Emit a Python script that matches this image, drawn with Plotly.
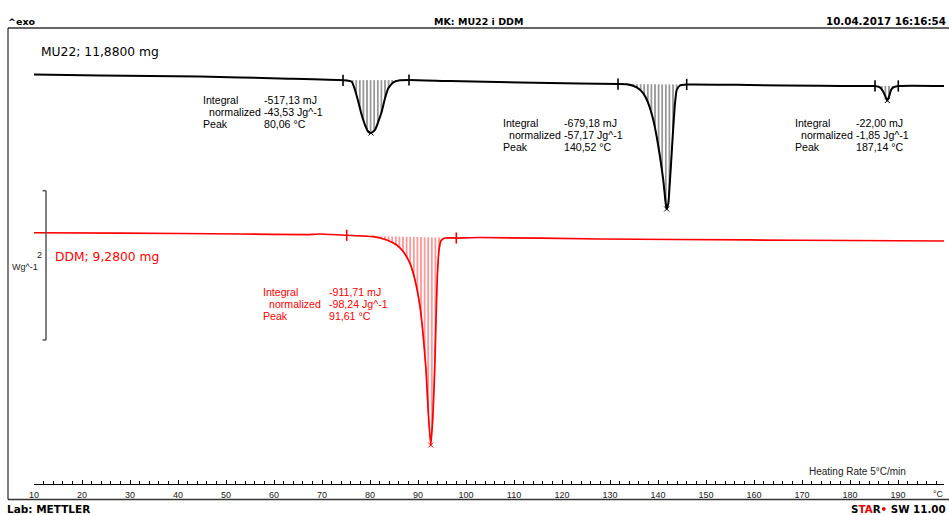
import numpy as np
import plotly.graph_objects as go

# ---------------- data ----------------
# MU22 curve: temperature (°C) and heat flow (W/g, offset)
mu22_temp = [10.0, 23.75, 44.58, 61.25, 74.38, 76.19, 76.88, 77.56, 78.27, 78.96,
             79.65, 80.21, 81.04, 81.73, 82.44, 83.13, 83.81, 84.85, 86.25, 88.13,
             96.67, 111.25, 123.75, 131.67, 133.48, 135.56, 136.94, 137.98, 139.02, 139.73,
             140.42, 141.10, 141.60, 141.81, 142.15, 142.50, 142.85, 143.19, 143.54, 143.90,
             144.58, 145.98, 159.17, 173.75, 182.71, 185.21, 186.25, 186.94, 187.50, 187.77,
             188.13, 188.54, 189.02, 190.06, 199.58]
mu22_hf = [5.486, 5.472, 5.459, 5.432, 5.408, 5.389, 5.278, 5.121, 4.943, 4.809,
           4.719, 4.702, 4.742, 4.853, 4.987, 5.167, 5.301, 5.381, 5.408, 5.412,
           5.398, 5.378, 5.365, 5.358, 5.354, 5.314, 5.234, 5.100, 4.876, 4.652,
           4.384, 4.072, 3.760, 3.684, 3.760, 4.072, 4.430, 4.786, 5.100, 5.278,
           5.338, 5.352, 5.345, 5.334, 5.332, 5.332, 5.314, 5.255, 5.171, 5.137,
           5.188, 5.278, 5.314, 5.332, 5.332]

# DDM curve
ddm_temp = [10.0, 27.92, 52.92, 66.81, 69.58, 75.15, 80.69, 83.48, 85.56, 86.94,
            88.33, 89.38, 90.42, 91.10, 91.67, 92.15, 92.65, 93.06, 93.48, 93.75,
            94.02, 94.38, 94.79, 95.63, 97.98, 102.92, 127.92, 159.17, 180.0, 199.58]
ddm_hf = [3.366, 3.362, 3.349, 3.340, 3.349, 3.332, 3.313, 3.269, 3.202, 3.112,
          2.956, 2.733, 2.375, 1.973, 1.527, 0.947, 0.522, 0.857, 1.527, 2.197,
          2.777, 3.135, 3.259, 3.295, 3.295, 3.302, 3.282, 3.269, 3.262, 3.255]

# integration limits (°C)
mu22_limits = [(74.38, 88.13), (131.67, 145.98), (185.21, 190.06)]
ddm_limits = [(75.15, 97.98)]

# evaluation texts
mu22_results = [
    ["-517,13 mJ", "-43,53 Jg^-1", "80,06 °C"],
    ["-679,18 mJ", "-57,17 Jg^-1", "140,52 °C"],
    ["-22,00 mJ", "-1,85 Jg^-1", "187,14 °C"],
]
ddm_results = [["-911,71 mJ", "-98,24 Jg^-1", "91,61 °C"]]
result_labels = ["Integral", "normalized", "Peak"]

x_ticks = list(range(10, 200, 10))

# ---------------- figure ----------------
W, H = 949, 515
ML, MR, MT, MB = 34, 5, 28, 31
PX_PER_C = 4.8
PX_PER_WG = 74.65
x_range = [10, 10 + (W - ML - MR) / PX_PER_C]
plot_h = H - MT - MB
y_range = [0, plot_h / PX_PER_WG]

fig = go.Figure()

def add_peaks(temp, hf, limits, color, edge):
    t = np.array(temp)
    h = np.array(hf)
    for a, b in limits:
        ha, hb = np.interp(a, t, h), np.interp(b, t, h)
        m = (t > a) & (t < b)
        px = [a] + list(t[m]) + [b]
        py = [ha] + list(h[m]) + [hb]
        fig.add_trace(go.Scatter(
            x=px, y=py, mode="lines", fill="toself",
            fillcolor="rgba(0,0,0,0)",
            fillpattern=dict(shape="|", size=3.6, solidity=0.4,
                             fgcolor=color, bgcolor="rgba(255,255,255,0)"),
            line=dict(color=edge, width=0.8),
            hoverinfo="skip", showlegend=False))
        # limit markers
        fig.add_trace(go.Scatter(
            x=[a, b], y=[ha, hb], mode="markers",
            marker=dict(symbol="line-ns", size=8, line=dict(color=color, width=1.6)),
            hoverinfo="skip", showlegend=False))
        # peak marker
        seg_t, seg_h = t[m], h[m]
        k = int(np.argmin(seg_h))
        fig.add_trace(go.Scatter(
            x=[seg_t[k]], y=[seg_h[k]], mode="markers",
            marker=dict(symbol="x-thin", size=5, line=dict(color=color, width=1)),
            hoverinfo="skip", showlegend=False))

add_peaks(mu22_temp, mu22_hf, mu22_limits, "black", "rgba(140,140,140,0.9)")
add_peaks(ddm_temp, ddm_hf, ddm_limits, "#ff0000", "rgba(255,110,110,0.9)")

fig.add_trace(go.Scatter(x=mu22_temp, y=mu22_hf, mode="lines",
                         line=dict(color="black", width=2, shape="spline", smoothing=0.5),
                         name="MU22", showlegend=False, hoverinfo="skip"))
fig.add_trace(go.Scatter(x=ddm_temp, y=ddm_hf, mode="lines",
                         line=dict(color="#ff0000", width=1.7, shape="spline", smoothing=0.5),
                         name="DDM", showlegend=False, hoverinfo="skip"))

def px_to_paper_x(px):
    return (px - ML) / (W - ML - MR)

def py_to_paper_y(py):
    return (H - MB - py) / plot_h

def py_to_data(py):
    return (H - MB - py) / PX_PER_WG

def pxc(px):
    return 10 + (px - ML) / PX_PER_C

ann = []
txt_font = dict(family="Liberation Sans, Arial, sans-serif", size=10.6)

# result blocks: (label px, value px, first line py, color, results)
blocks = [
    (202, 263, 100, "black", mu22_results[0]),
    (502, 563, 123, "black", mu22_results[1]),
    (794, 855, 123, "black", mu22_results[2]),
    (262, 328, 292, "#ff0000", ddm_results[0]),
]
for lx, vx, py0, col, vals in blocks:
    for i, (lab, val) in enumerate(zip(result_labels, vals)):
        yy = py_to_data(py0 + 12.2 * i)
        ann.append(dict(x=pxc(lx), y=yy, xref="x", yref="y", text=lab,
                        xanchor="left", yanchor="middle", showarrow=False, borderpad=0,
                        xshift=6 if i == 1 else 0,
                        font=dict(color=col, **txt_font)))
        ann.append(dict(x=pxc(vx), y=yy, xref="x", yref="y", text=val,
                        xanchor="left", yanchor="middle", showarrow=False, borderpad=0,
                        font=dict(color=col, **txt_font)))

# sample labels
ann.append(dict(x=px_to_paper_x(39), y=py_to_paper_y(51.5), xref="paper", yref="paper",
                text="MU22; 11,8800 mg", xanchor="left", yanchor="middle", showarrow=False,
                font=dict(family="DejaVu Sans, Verdana, sans-serif", size=12.3, color="black")))
ann.append(dict(x=px_to_paper_x(53), y=py_to_paper_y(256.5), xref="paper", yref="paper",
                text="DDM; 9,2800 mg", xanchor="left", yanchor="middle", showarrow=False,
                font=dict(family="DejaVu Sans, Verdana, sans-serif", size=12.3, color="#ff0000")))

# header and footer
bold = dict(family="DejaVu Sans, Verdana, sans-serif", color="black")
ann.append(dict(x=px_to_paper_x(6), y=py_to_paper_y(21), xref="paper", yref="paper",
                text="<b>^exo</b>", xanchor="left", yanchor="middle", showarrow=False,
                font=dict(size=9.5, **bold)))
ann.append(dict(x=px_to_paper_x(478), y=py_to_paper_y(21), xref="paper", yref="paper",
                text="<b>MK: MU22 i DDM</b>", xanchor="center", yanchor="middle", showarrow=False,
                font=dict(size=9.5, **bold)))
ann.append(dict(x=px_to_paper_x(948), y=py_to_paper_y(21), xref="paper", yref="paper",
                text="<b>10.04.2017 16:16:54</b>", xanchor="right", yanchor="middle", showarrow=False,
                font=dict(size=10.3, **bold)))
ann.append(dict(x=px_to_paper_x(5), y=py_to_paper_y(509), xref="paper", yref="paper",
                text="<b>Lab: METTLER</b>", xanchor="left", yanchor="middle", showarrow=False,
                font=dict(size=10.5, **bold)))
ann.append(dict(x=px_to_paper_x(948), y=py_to_paper_y(509), xref="paper", yref="paper",
                text="<b>S<span style='color:#e00000'>TA</span>R<span style='color:#e00000'>•</span> SW 11.00</b>",
                xanchor="right", yanchor="middle", showarrow=False,
                font=dict(size=10.3, **bold)))

# heating rate and unit
ann.append(dict(x=px_to_paper_x(807), y=py_to_paper_y(471.5), xref="paper", yref="paper",
                text="Heating Rate 5°C/min", xanchor="left", yanchor="middle", showarrow=False,
                font=dict(family="Liberation Sans, Arial, sans-serif", size=10, color="#222")))
ann.append(dict(x=px_to_paper_x(938), y=py_to_paper_y(494), xref="paper", yref="paper",
                text="°C", xanchor="center", yanchor="middle", showarrow=False,
                font=dict(family="Liberation Sans, Arial, sans-serif", size=9, color="#222")))

# scale bar labels
ann.append(dict(x=px_to_paper_x(39), y=py_to_data(255), xref="paper", yref="y",
                text="2", xanchor="center", yanchor="middle", showarrow=False,
                font=dict(family="Liberation Sans, Arial, sans-serif", size=9, color="#222")))
ann.append(dict(x=px_to_paper_x(24.5), y=py_to_data(267), xref="paper", yref="y",
                text="Wg^-1", xanchor="center", yanchor="middle", showarrow=False,
                font=dict(family="Liberation Sans, Arial, sans-serif", size=9, color="#222")))

shapes = []
# frame
fx0, fx1 = px_to_paper_x(8), px_to_paper_x(949)
shapes.append(dict(type="line", xref="paper", yref="paper", x0=fx0, x1=fx1,
                   y0=py_to_paper_y(28), y1=py_to_paper_y(28), line=dict(color="#666", width=2)))
shapes.append(dict(type="line", xref="paper", yref="paper", x0=fx0, x1=fx1,
                   y0=py_to_paper_y(499.5), y1=py_to_paper_y(499.5), line=dict(color="#333", width=1.5)))
shapes.append(dict(type="line", xref="paper", yref="paper", x0=fx0, x1=fx0,
                   y0=py_to_paper_y(28), y1=py_to_paper_y(499.5), line=dict(color="black", width=1)))
# scale bar: 2 W/g
sb_x = px_to_paper_x(46)
sb_xs = px_to_paper_x(42.5)
sb_y0 = py_to_data(340)
sb_y1 = sb_y0 + 2
shapes.append(dict(type="line", xref="paper", yref="y", x0=sb_x, x1=sb_x, y0=sb_y0, y1=sb_y1,
                   line=dict(color="#555", width=1.5)))
for yy in (sb_y0, sb_y1):
    shapes.append(dict(type="line", xref="paper", yref="y", x0=sb_xs, x1=sb_x, y0=yy, y1=yy,
                       line=dict(color="#555", width=1.5)))

fig.update_layout(
    width=W, height=H,
    margin=dict(l=ML, r=MR, t=MT, b=MB, pad=0),
    paper_bgcolor="white", plot_bgcolor="white",
    showlegend=False,
    annotations=ann, shapes=shapes,
    xaxis=dict(range=x_range, showline=True, linecolor="black", linewidth=1,
               ticks="inside", ticklen=4, tickwidth=1, tickcolor="black",
               tickvals=x_ticks, ticktext=[str(v) for v in x_ticks],
               ticklabelstandoff=2,
               minor=dict(ticks="inside", tick0=10, dtick=2, ticklen=3, tickwidth=1, tickcolor="black"),
               showgrid=False, zeroline=False, fixedrange=True,
               tickfont=dict(family="Liberation Sans, Arial, sans-serif", size=9, color="#222")),
    yaxis=dict(range=y_range, visible=False, showgrid=False, zeroline=False, fixedrange=True),
)

fig.write_html("out.html", config={"displayModeBar": False},
               post_script="document.body.style.margin='0';document.body.style.overflow='hidden';")
